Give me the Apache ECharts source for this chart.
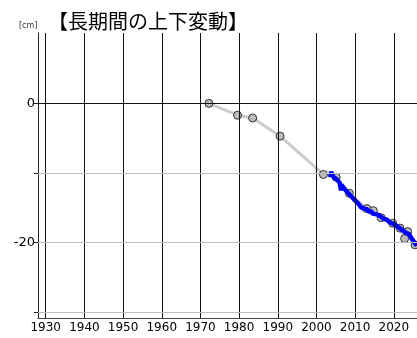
<!DOCTYPE html>
<html>
<head>
<meta charset="utf-8">
<script src="https://cdn.jsdelivr.net/npm/echarts@6/dist/echarts.min.js"></script>
<style>
  html, body { margin: 0; padding: 0; background: #fff; }
  #chart { width: 417px; height: 338px; }
</style>
</head>
<body>
<div id="chart"></div>
<script>
// Survey benchmark levelling results [year, cm]
const surveyPoints = [
  [1972.2, 0.0], [1979.6, -1.7], [1983.5, -2.1], [1990.6, -4.7],
  [2001.8, -10.2], [2005.1, -10.6], [2008.5, -12.9], [2013.0, -15.1],
  [2014.7, -15.4], [2016.7, -16.4], [2019.7, -17.2], [2021.6, -17.9],
  [2022.8, -19.4], [2023.6, -18.4], [2025.5, -20.3]
];

// Continuous GNSS displacement (cm)
const gnssYears = [
  2003.55, 2003.8, 2004.0, 2004.25, 2004.5, 2004.75, 2005.0, 2005.25, 2005.5, 2005.75,
  2006.0, 2006.25, 2006.35, 2006.45, 2006.75, 2007.0, 2007.25, 2007.5, 2007.75,
  2008.0, 2008.25, 2008.5, 2008.75, 2009.0, 2009.25, 2009.5, 2009.75,
  2010.0, 2010.25, 2010.5, 2010.75, 2011.0, 2011.25, 2011.5, 2011.75,
  2012.0, 2012.25, 2012.5, 2012.75, 2013.0, 2013.25, 2013.5, 2013.75,
  2014.0, 2014.25, 2014.5, 2014.75, 2015.0, 2015.25, 2015.5, 2015.75,
  2016.0, 2016.25, 2016.5, 2016.75, 2017.0, 2017.25, 2017.5, 2017.75,
  2018.0, 2018.25, 2018.5, 2018.75, 2019.0, 2019.25, 2019.5, 2019.75,
  2020.0, 2020.25, 2020.5, 2020.75, 2021.0, 2021.25, 2021.5, 2021.75,
  2022.0, 2022.25, 2022.5, 2022.75, 2023.0, 2023.25, 2023.5, 2023.75,
  2024.0, 2024.25, 2024.5, 2024.75, 2025.0, 2025.25, 2025.5, 2025.75, 2026.0
];
const gnssValues = [
  -10.6, -9.8, -10.1, -10.3, -10.6, -10.5, -10.8, -10.9, -11.1, -11.0,
  -11.4, -11.6, -12.5, -11.7, -11.9, -12.1, -12.3, -12.2, -12.6,
  -12.7, -12.9, -13.0, -13.2, -13.3, -13.5, -13.4, -13.8,
  -13.9, -14.0, -14.2, -14.3, -14.5, -14.6, -14.9, -14.8,
  -15.0, -15.1, -15.0, -15.3, -15.2, -15.4, -15.5, -15.4,
  -15.6, -15.5, -15.8, -15.7, -15.8, -15.9, -15.8, -16.0,
  -16.0, -16.2, -16.1, -16.3, -16.4, -16.3, -16.6, -16.6,
  -16.8, -16.7, -16.9, -17.0, -16.9, -17.1, -17.2, -17.1,
  -17.3, -17.4, -17.5, -17.6, -17.7, -17.8, -17.9, -18.0,
  -18.1, -18.2, -18.3, -18.4, -18.4, -18.6, -18.5, -18.7,
  -18.8, -19.0, -19.3, -19.5, -19.7, -19.9, -20.1, -20.2, -20.4
];

// Axis ticks
const xTicks = [1930, 1940, 1950, 1960, 1970, 1980, 1990, 2000, 2010, 2020];
const yTicks = [-30, -20, -10, 0];
const yLabels = [-20, 0];

const chart = echarts.init(document.getElementById('chart'), null, { renderer: 'canvas' });

const vGrid = xTicks.map(v => ({ xAxis: v, lineStyle: { color: '#111', width: 1, type: 'solid' } }));
const hGrid = yTicks.map(v => ({ yAxis: v, lineStyle: { color: v === 0 ? '#111' : '#bdbdbd', width: 1, type: 'solid' } }));

chart.setOption({
  animation: false,
  backgroundColor: '#fff',
  title: {
    text: '【長期間の上下変動】',
    left: 43,
    top: 6,
    textStyle: { fontFamily: 'Noto Sans CJK JP', fontSize: 20, fontWeight: 'normal', color: '#000' }
  },
  graphic: [{
    type: 'text',
    left: 19,
    top: 22,
    style: { text: '[cm]', fontFamily: 'DejaVu Sans', fontSize: 8, fill: '#333' }
  }],
  grid: { left: 38, right: 0, top: 33, bottom: 20, containLabel: false },
  xAxis: {
    type: 'value',
    min: 1928,
    max: 2026,
    axisLine: { show: true, onZero: false, lineStyle: { color: '#444', width: 1 } },
    axisTick: { show: false },
    splitLine: { show: false },
    axisLabel: {
      customValues: xTicks,
      formatter: v => String(v),
      color: '#000',
      fontFamily: 'DejaVu Sans',
      fontSize: 12,
      margin: 4
    }
  },
  yAxis: {
    type: 'value',
    min: -30.8,
    max: 10.1,
    axisLine: { show: true, onZero: false, lineStyle: { color: '#222', width: 1 } },
    axisTick: { show: true, customValues: yTicks, length: 4, lineStyle: { color: '#222' } },
    splitLine: { show: false },
    axisLabel: {
      customValues: yLabels,
      formatter: v => String(v),
      color: '#000',
      fontFamily: 'DejaVu Sans',
      fontSize: 13,
      margin: 3
    }
  },
  series: [
    {
      // gridlines
      type: 'line',
      data: [],
      silent: true,
      z: 1,
      markLine: {
        silent: true,
        symbol: 'none',
        label: { show: false },
        animation: false,
        data: vGrid.concat(hGrid)
      }
    },
    {
      name: '水準測量',
      type: 'line',
      data: surveyPoints,
      z: 3,
      symbol: 'circle',
      symbolSize: 8,
      showAllSymbol: true,
      lineStyle: { color: '#cccccc', width: 3 },
      itemStyle: { color: '#bbbbbb', borderColor: '#333', borderWidth: 1 }
    },
    {
      name: 'GNSS',
      type: 'line',
      data: gnssYears.map((y, i) => [y, gnssValues[i]]),
      z: 4,
      symbol: 'none',
      lineStyle: { color: '#0000ff', width: 4.5 }
    }
  ]
});
</script>
</body>
</html>
